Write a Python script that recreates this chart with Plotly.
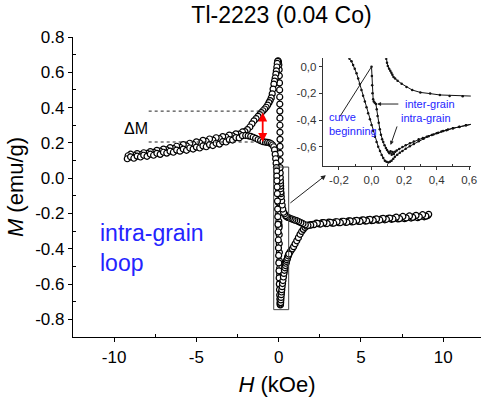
import plotly.graph_objects as go

# Magnetisation loop of Tl-2223 (0.04 Co): H in kOe, M in emu/g

# virgin curve, 0 -> +9 kOe
h_virgin = [0.0, 0.002, 0.004, 0.006, 0.01, 0.014, 0.02, 0.027, 0.032, 0.037, 0.044, 0.051,
            0.058, 0.065, 0.072, 0.08, 0.088, 0.095, 0.103, 0.11, 0.117, 0.124, 0.13, 0.137,
            0.145, 0.155, 0.17, 0.19, 0.21, 0.236, 0.26, 0.29, 0.315, 0.34, 0.37, 0.4, 0.43,
            0.46, 0.5, 0.54, 0.58, 0.62, 0.68, 0.75, 0.83, 0.91, 1.0, 1.1, 1.2, 1.3, 1.4, 1.5,
            1.6, 1.7, 1.82, 1.95, 2.1, 2.28, 2.46, 2.65, 2.85, 3.05, 3.25, 3.45, 3.65, 3.85,
            4.05, 4.25, 4.45, 4.65, 4.85, 5.05, 5.25, 5.45, 5.65, 5.85, 6.05, 6.25, 6.45, 6.65,
            6.85, 7.05, 7.25, 7.45, 7.65, 7.85, 8.05, 8.25, 8.45, 8.65, 8.85, 9.05]
m_virgin = [0.0, -0.07, -0.14, -0.2, -0.245, -0.262, -0.27, -0.28, -0.32, -0.37, -0.42, -0.47,
            -0.51, -0.545, -0.565, -0.59, -0.61, -0.625, -0.638, -0.65, -0.635, -0.66, -0.64,
            -0.655, -0.638, -0.628, -0.618, -0.602, -0.59, -0.575, -0.562, -0.545, -0.535,
            -0.525, -0.512, -0.5, -0.487, -0.476, -0.462, -0.45, -0.44, -0.43, -0.42, -0.41,
            -0.4, -0.388, -0.372, -0.355, -0.337, -0.318, -0.302, -0.29, -0.279, -0.272,
            -0.266, -0.263, -0.262, -0.255, -0.259, -0.252, -0.257, -0.249, -0.255, -0.247,
            -0.252, -0.244, -0.25, -0.242, -0.248, -0.24, -0.245, -0.237, -0.243, -0.235,
            -0.241, -0.233, -0.238, -0.231, -0.236, -0.228, -0.233, -0.226, -0.231, -0.224,
            -0.229, -0.221, -0.226, -0.218, -0.224, -0.215, -0.219, -0.213]

# descending branch, +9 -> -9 kOe
h_down = [9.12, 8.95, 8.75, 8.55, 8.35, 8.15, 7.95, 7.75, 7.55, 7.35, 7.15, 6.95, 6.75, 6.55,
          6.35, 6.15, 5.95, 5.75, 5.55, 5.35, 5.15, 4.95, 4.75, 4.55, 4.35, 4.15, 3.95, 3.75,
          3.55, 3.35, 3.15, 2.95, 2.75, 2.55, 2.35, 2.15, 1.95, 1.78, 1.62, 1.48, 1.35, 1.22,
          1.1, 0.98, 0.87, 0.76, 0.66, 0.56, 0.48, 0.42, 0.36, 0.3, 0.25, 0.215, 0.185, 0.16,
          0.145, 0.135, 0.128, 0.122, 0.115, 0.108, 0.1, 0.095, 0.09, 0.087, 0.085, 0.083,
          0.082, 0.08, 0.078, 0.076, 0.073, 0.07, 0.066, 0.06, 0.052, 0.042, 0.03, 0.012,
          -0.01, -0.035, -0.06, -0.085, -0.11, -0.14, -0.17, -0.21, -0.25, -0.29, -0.34, -0.39,
          -0.45, -0.52, -0.59, -0.67, -0.76, -0.85, -0.95, -1.05, -1.15, -1.25, -1.37, -1.5,
          -1.62, -1.75, -1.9, -2.05, -2.2, -2.4, -2.6, -2.8, -3.0, -3.2, -3.4, -3.6, -3.8, -4.0,
          -4.2, -4.4, -4.6, -4.8, -5.0, -5.2, -5.4, -5.6, -5.8, -6.0, -6.2, -6.4, -6.6, -6.8,
          -7.0, -7.2, -7.4, -7.6, -7.8, -8.0, -8.2, -8.4, -8.6, -8.8, -9.0, -9.15]
m_down = [-0.205, -0.215, -0.207, -0.219, -0.211, -0.222, -0.214, -0.225, -0.217, -0.229,
          -0.221, -0.231, -0.226, -0.233, -0.228, -0.237, -0.231, -0.239, -0.234, -0.242,
          -0.236, -0.245, -0.239, -0.247, -0.242, -0.25, -0.244, -0.252, -0.247, -0.255,
          -0.25, -0.257, -0.252, -0.26, -0.256, -0.263, -0.266, -0.268, -0.264, -0.258,
          -0.252, -0.246, -0.241, -0.238, -0.234, -0.23, -0.226, -0.222, -0.219, -0.212,
          -0.202, -0.193, -0.175, -0.152, -0.128, -0.105, -0.088, -0.078, -0.06, -0.045,
          -0.03, -0.015, 0.005, 0.03, 0.06, 0.1, 0.14, 0.18, 0.22, 0.26, 0.3, 0.34, 0.38,
          0.42, 0.46, 0.5, 0.54, 0.58, 0.615, 0.643, 0.658, 0.665, 0.662, 0.65, 0.63, 0.608,
          0.59, 0.568, 0.55, 0.533, 0.505, 0.478, 0.455, 0.44, 0.428, 0.414, 0.402, 0.392,
          0.382, 0.372, 0.36, 0.35, 0.338, 0.325, 0.308, 0.29, 0.275, 0.264, 0.262, 0.25,
          0.251, 0.24, 0.244, 0.232, 0.236, 0.224, 0.229, 0.216, 0.222, 0.208, 0.214, 0.2,
          0.206, 0.191, 0.198, 0.183, 0.19, 0.175, 0.181, 0.167, 0.173, 0.16, 0.165, 0.153,
          0.158, 0.146, 0.151, 0.14, 0.144, 0.134, 0.139, 0.13, 0.136, 0.127, 0.133, 0.129]

# return branch, -9 kOe back through zero
h_up = [-9.2, -9.0, -8.8, -8.6, -8.4, -8.2, -8.0, -7.8, -7.6, -7.4, -7.2, -7.0, -6.8, -6.6,
        -6.4, -6.2, -6.0, -5.8, -5.6, -5.4, -5.2, -5.0, -4.8, -4.6, -4.4, -4.2, -4.0, -3.8,
        -3.6, -3.4, -3.2, -3.0, -2.8, -2.6, -2.4, -2.2, -2.0, -1.85, -1.7, -1.55, -1.4, -1.25,
        -1.1, -0.95, -0.8, -0.67, -0.55, -0.45, -0.37, -0.3, -0.25, -0.21, -0.18, -0.155,
        -0.135, -0.123, -0.113, -0.103, -0.092, -0.082, -0.072, -0.062, -0.052, -0.041,
        -0.031, -0.021, -0.01, 0.0, 0.01, 0.021, 0.031, 0.041, 0.052, 0.062, 0.072, 0.082,
        0.092, 0.103, 0.113, 0.123, 0.134, 0.144, 0.158, 0.174, 0.19, 0.21, 0.235, 0.26, 0.29,
        0.32, 0.35, 0.38, 0.41, 0.44, 0.47, 0.5, 0.54, 0.58, 0.62]
m_up = [0.11, 0.121, 0.113, 0.125, 0.12, 0.13, 0.124, 0.136, 0.13, 0.141, 0.135, 0.147,
        0.142, 0.153, 0.147, 0.159, 0.153, 0.165, 0.158, 0.171, 0.165, 0.176, 0.171, 0.183,
        0.178, 0.19, 0.185, 0.198, 0.193, 0.207, 0.205, 0.218, 0.216, 0.23, 0.228, 0.241,
        0.242, 0.24, 0.237, 0.232, 0.226, 0.219, 0.213, 0.207, 0.204, 0.203, 0.2, 0.195,
        0.188, 0.178, 0.16, 0.135, 0.11, 0.085, 0.06, 0.04, 0.012, -0.015, -0.05, -0.088,
        -0.13, -0.175, -0.218, -0.262, -0.305, -0.35, -0.395, -0.438, -0.48, -0.525, -0.565,
        -0.6, -0.632, -0.662, -0.685, -0.705, -0.714, -0.718, -0.713, -0.705, -0.69, -0.676,
        -0.66, -0.645, -0.632, -0.615, -0.597, -0.58, -0.56, -0.54, -0.522, -0.508, -0.495,
        -0.482, -0.472, -0.462, -0.452, -0.44, -0.43]

branches = [(h_virgin, m_virgin), (h_down, m_down), (h_up, m_up)]

# main axes ticks
x_tick_vals = [-10, -5, 0, 5, 10]
x_tick_text = ["-10", "-5", "0", "5", "10"]
x_minor_vals = [-7.5, -2.5, 2.5, 7.5]
y_tick_vals = [-0.8, -0.6, -0.4, -0.2, 0.0, 0.2, 0.4, 0.6, 0.8]
y_tick_text = ["-0.8", "-0.6", "-0.4", "-0.2", "0.0", "0.2", "0.4", "0.6", "0.8"]
y_minor_vals = [-0.7, -0.5, -0.3, -0.1, 0.1, 0.3, 0.5, 0.7]
h_range = [-12.5, 12.3]
m_range = [-0.9, 0.8]

# inset (low-field zoom) ticks and window
inset_x_vals = [-0.2, 0.0, 0.2, 0.4, 0.6]
inset_x_text = ["-0,2", "0,0", "0,2", "0,4", "0,6"]
inset_x_minor = [-0.1, 0.1, 0.3, 0.5]
inset_y_vals = [-0.6, -0.4, -0.2, 0.0]
inset_y_text = ["-0,6", "-0,4", "-0,2", "0,0"]
inset_h_range = [-0.3, 0.61]
inset_m_range = [-0.745, 0.063]

# ΔM marked at H = -0.97 kOe between the two branches
dm_h = -0.97
dm_upper = 0.38
dm_lower = 0.205

FONT = "Liberation Sans, Arial, sans-serif"
BLUE = "#2424ff"

fig = go.Figure()

for h, m in branches:
    fig.add_trace(go.Scatter(
        x=h, y=m, mode="lines+markers",
        line=dict(color="black", width=0.8),
        marker=dict(symbol="circle", size=6, color="white",
                    line=dict(color="black", width=1.2)),
        xaxis="x", yaxis="y", hoverinfo="skip"))

for h, m in branches:
    fig.add_trace(go.Scatter(
        x=h, y=m, mode="lines+markers",
        line=dict(color="#111", width=1),
        marker=dict(symbol="circle", size=2.5, color="#111"),
        xaxis="x2", yaxis="y2", hoverinfo="skip"))

tick_common = dict(tickcolor="black", tickwidth=1, showgrid=False, zeroline=False,
                   automargin=False)
inset_common = dict(tickcolor="#333", tickwidth=1, showgrid=False, zeroline=False,
                    automargin=False, showline=True, linecolor="#333", linewidth=1)

fig.update_layout(
    width=481, height=403, autosize=False,
    margin=dict(l=73, r=0, t=37, b=66, pad=0),
    paper_bgcolor="white", plot_bgcolor="white",
    showlegend=False,
    font=dict(family=FONT, color="black"),
    title=dict(text="Tl-2223 (0.04 Co)", x=0.511, xref="paper", xanchor="center",
               y=1 - 15 / 403, yref="container", yanchor="middle",
               font=dict(size=23, family=FONT, color="black")),
    xaxis=dict(domain=[0, 1], range=h_range, anchor="y",
               tickmode="array", tickvals=x_tick_vals, ticktext=x_tick_text,
               ticks="outside", ticklen=4,
               minor=dict(tickmode="array", tickvals=x_minor_vals, ticks="inside",
                          ticklen=3, tickcolor="black", showgrid=False),
               showline=True, linecolor="black", linewidth=1.2,
               tickfont=dict(size=17),
               title=dict(text="<i>H</i> (kOe)", font=dict(size=22), standoff=11),
               **tick_common),
    yaxis=dict(domain=[0, 1], range=m_range, anchor="x",
               tickmode="array", tickvals=y_tick_vals, ticktext=y_tick_text,
               ticks="outside", ticklen=4,
               minor=dict(tickmode="array", tickvals=y_minor_vals, ticks="inside",
                          ticklen=3, tickcolor="black", showgrid=False),
               showline=True, linecolor="black", linewidth=1.2,
               tickfont=dict(size=17),
               title=dict(text="<i>M</i> (emu/g)", font=dict(size=22), standoff=5),
               **tick_common),
    xaxis3=dict(overlaying="x", side="top", anchor="y", range=h_range,
                tickmode="array", tickvals=x_tick_vals, ticks="inside", ticklen=5,
                minor=dict(tickmode="array", tickvals=x_minor_vals, ticks="inside",
                           ticklen=3, tickcolor="black", showgrid=False),
                showticklabels=False, showline=True, linecolor="black", linewidth=1.2,
                **tick_common),
    yaxis3=dict(overlaying="y", side="right", anchor="x", range=m_range,
                tickmode="array", tickvals=y_tick_vals, ticks="inside", ticklen=5,
                minor=dict(tickmode="array", tickvals=y_minor_vals, ticks="inside",
                           ticklen=3, tickcolor="black", showgrid=False),
                showticklabels=False, showline=False, **tick_common),
    xaxis2=dict(domain=[0.612, 0.975], anchor="y2", range=inset_h_range,
                tickmode="array", tickvals=inset_x_vals, ticktext=inset_x_text,
                ticks="outside", ticklen=3,
                minor=dict(tickmode="array", tickvals=inset_x_minor, ticks="inside",
                           ticklen=2, tickcolor="#333", showgrid=False),
                tickfont=dict(size=11.5, color="#333"), **inset_common),
    yaxis2=dict(domain=[0.57, 0.929], anchor="x2", range=inset_m_range,
                tickmode="array", tickvals=inset_y_vals, ticktext=inset_y_text,
                ticks="outside", ticklen=3,
                tickfont=dict(size=11.5, color="#333"), **inset_common),
    xaxis4=dict(overlaying="x2", side="top", anchor="y2", range=inset_h_range,
                tickmode="array", tickvals=inset_x_vals, ticks="inside", ticklen=3,
                minor=dict(tickmode="array", tickvals=inset_x_minor, ticks="inside",
                           ticklen=2, tickcolor="#333", showgrid=False),
                showticklabels=False, **inset_common),
    yaxis4=dict(overlaying="y2", side="right", anchor="x2", range=inset_m_range,
                tickmode="array", tickvals=inset_y_vals, ticks="inside", ticklen=3,
                showticklabels=False, **inset_common),
)

# dotted guides and the zoom window
fig.add_shape(type="line", xref="x", yref="y", x0=-7.9, x1=dm_h + 0.02,
              y0=dm_upper, y1=dm_upper, line=dict(color="#222", width=1, dash="dot"))
fig.add_shape(type="line", xref="x", yref="y", x0=-7.9, x1=dm_h + 0.17,
              y0=dm_lower, y1=dm_lower, line=dict(color="#222", width=1, dash="dot"))
fig.add_shape(type="rect", xref="x", yref="y",
              x0=inset_h_range[0], x1=inset_h_range[1],
              y0=inset_m_range[0], y1=inset_m_range[1],
              line=dict(color="#444", width=1))

annotations = [
    # red double arrow for ΔM
    dict(x=dm_h, y=dm_lower, ax=dm_h, ay=dm_upper, xref="x", yref="y",
         axref="x", ayref="y", text="", showarrow=True, arrowside="end+start",
         arrowhead=2, arrowsize=1, arrowwidth=1.8, arrowcolor="red"),
    dict(x=-9.55, y=0.281, xref="x", yref="y", text="ΔM", showarrow=False,
         xanchor="left", yanchor="middle", font=dict(size=16, color="black")),
    dict(x=-11.0, y=-0.395, xref="x", yref="y", text="intra-grain<br>loop",
         showarrow=False, xanchor="left", yanchor="middle", align="left",
         font=dict(size=23, color=BLUE)),
    # pointer from the zoom window to the inset
    dict(x=2.87, y=0.017, ax=0.62, ay=-0.147, xref="x", yref="y", axref="x", ayref="y",
         text="", showarrow=True, arrowhead=2, arrowsize=1, arrowwidth=1,
         arrowcolor="#222"),
    # inset labels
    dict(x=0.0, y=0.0, ax=-0.2, ay=-0.385, xref="x2", yref="y2", axref="x2", ayref="y2",
         text="", showarrow=True, arrowhead=0, arrowwidth=1, arrowcolor="#222"),
    dict(x=-0.275, y=-0.432, xref="x2", yref="y2", text="curve<br>beginning",
         showarrow=False, xanchor="left", yanchor="middle", align="left",
         font=dict(size=11, color=BLUE)),
    dict(x=0.034, y=-0.28, ax=0.174, ay=-0.28, xref="x2", yref="y2", axref="x2",
         ayref="y2", text="", showarrow=True, arrowhead=2, arrowsize=0.8, arrowwidth=1,
         arrowcolor="#222"),
    dict(x=0.195, y=-0.28, xref="x2", yref="y2", text="inter-grain", showarrow=False,
         xanchor="left", yanchor="middle", font=dict(size=11, color=BLUE)),
    dict(x=0.168, y=-0.382, xref="x2", yref="y2", text="intra-grain", showarrow=False,
         xanchor="left", yanchor="middle", font=dict(size=11, color=BLUE)),
    dict(x=0.117, y=-0.587, ax=0.16, ay=-0.437, xref="x2", yref="y2", axref="x2",
         ayref="y2", text="", showarrow=True, arrowhead=2, arrowsize=0.8, arrowwidth=1,
         arrowcolor="#222"),
]
fig.update_layout(annotations=annotations)

fig.write_html("out.html")
